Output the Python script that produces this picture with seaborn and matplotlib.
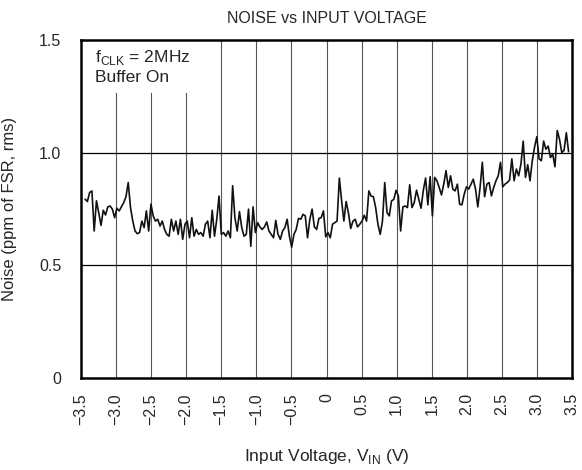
import numpy as np
import pandas as pd
import matplotlib
matplotlib.use('Agg')
import matplotlib.pyplot as plt
import seaborn as sns
from matplotlib.patches import Rectangle

# Barrido de tension de entrada (V)
VIN_START = -3.44
VIN_STOP = 3.45

# Ruido (ppm of FSR, rms), de izquierda a derecha
noise_neg = [
    0.793, 0.783, 0.823, 0.830, 0.652, 0.786, 0.733, 0.677, 0.744, 0.723,
    0.759, 0.763, 0.749, 0.711, 0.753, 0.741, 0.759, 0.778, 0.804, 0.867,
    0.756, 0.696, 0.652, 0.640, 0.645, 0.696, 0.667, 0.741, 0.652, 0.771,
    0.719, 0.696, 0.704, 0.674, 0.696, 0.659, 0.637, 0.629, 0.704, 0.652,
    0.696, 0.637, 0.704, 0.615, 0.682, 0.696, 0.622, 0.711, 0.629, 0.659,
    0.637, 0.645, 0.629, 0.682, 0.696, 0.622, 0.744, 0.629, 0.704, 0.807,
    0.637, 0.645, 0.629, 0.652, 0.622,
]
noise_mid = [
    0.853, 0.711, 0.652, 0.738, 0.667, 0.629, 0.637, 0.749, 0.584, 0.759,
    0.645, 0.689, 0.670, 0.659, 0.670, 0.692, 0.652, 0.637, 0.622, 0.699,
    0.637, 0.615, 0.652, 0.667, 0.704, 0.629, 0.580, 0.637, 0.659, 0.708,
    0.704, 0.726, 0.719, 0.622, 0.704, 0.749, 0.670, 0.659, 0.708, 0.711,
    0.741, 0.626, 0.645, 0.622, 0.682, 0.689, 0.696, 0.887, 0.786, 0.696,
    0.783, 0.733, 0.663, 0.696, 0.704, 0.670, 0.682, 0.696, 0.722, 0.696,
    0.830, 0.807, 0.804, 0.756, 0.682, 0.637, 0.696,
]
noise_pos = [
    0.867, 0.734, 0.719, 0.786, 0.792, 0.833, 0.808, 0.652, 0.759, 0.763,
    0.756, 0.857, 0.756, 0.778, 0.833, 0.793, 0.753, 0.833, 0.887, 0.768,
    0.893, 0.719, 0.890, 0.875, 0.845, 0.812, 0.860, 0.920, 0.845, 0.897,
    0.838, 0.830, 0.860, 0.771, 0.768, 0.815, 0.848, 0.838, 0.860, 0.882,
    0.838, 0.759, 0.845, 0.957, 0.804, 0.860, 0.867, 0.808, 0.845, 0.875,
    0.897, 0.957, 0.848, 0.860, 0.867, 0.878, 0.972, 0.875, 0.927, 0.897,
    0.949, 1.051, 0.890, 0.946, 0.875, 0.964, 1.024, 1.071,
]
noise_tail = [
    0.972, 0.964, 1.051, 1.015, 1.029, 0.978, 0.993, 0.937, 1.098, 1.059,
    1.000, 1.010, 1.088, 1.004,
]

x_ticks = [-3.5, -3.0, -2.5, -2.0, -1.5, -1.0, -0.5, 0, 0.5, 1.0, 1.5, 2.0, 2.5, 3.0, 3.5]
x_labels = ['\u22123.5', '\u22123.0', '\u22122.5', '\u22122.0', '\u22121.5', '\u22121.0', '\u22120.5',
            '0', '0.5', '1.0', '1.5', '2.0', '2.5', '3.0', '3.5']
y_ticks = [0, 0.5, 1.0, 1.5]
y_labels = ['0', '0.5', '1.0', '1.5']

noise = noise_neg + noise_mid + noise_pos + noise_tail
df = pd.DataFrame({
    'vin': np.linspace(VIN_START, VIN_STOP, len(noise)),
    'noise': noise,
})

sns.set_style('white')
plt.rcParams['font.family'] = ['Liberation Sans', 'DejaVu Sans']
plt.rcParams['mathtext.fontset'] = 'custom'
plt.rcParams['mathtext.rm'] = 'Liberation Sans'

fig = plt.figure(figsize=(5.82, 4.70), dpi=100)
ax = fig.add_axes([0.139, 0.196, 0.844, 0.719])

sns.lineplot(data=df, x='vin', y='noise', color='#111111', linewidth=1.2, ax=ax, zorder=3)

ax.set_xlim(-3.5, 3.5)
ax.set_ylim(0, 1.5)
ax.set_xticks(x_ticks)
ax.set_xticklabels(x_labels, rotation=90, fontsize=11.5)
ax.set_yticks(y_ticks)
ax.set_yticklabels(y_labels, fontsize=11.5)
ax.tick_params(axis='x', length=0, pad=11)
ax.tick_params(axis='y', length=0, pad=14)

for xv in x_ticks[1:-1]:
    ax.axvline(xv, color='#555555', linewidth=0.8, zorder=1)
for yv in y_ticks[1:-1]:
    ax.axhline(yv, color='black', linewidth=0.9, zorder=1)

# caja blanca detras de la anotacion
ax.add_patch(Rectangle((0, 0.843), 0.25, 0.157, transform=ax.transAxes,
                       facecolor='white', edgecolor='none', zorder=2))
ax.text(0.028, 0.975, r'f$_\mathregular{CLK}$ = 2MHz' + '\nBuffer On', transform=ax.transAxes,
        ha='left', va='top', fontsize=12.5, linespacing=1.25, zorder=4)

for s in ax.spines.values():
    s.set_visible(True)
    s.set_color('black')
    s.set_linewidth(1.8)

ax.set_title('NOISE vs INPUT VOLTAGE', fontsize=11.5, pad=12)
ax.set_xlabel(r'Input Voltage, V$_\mathregular{IN}$ (V)', fontsize=12.5)
ax.xaxis.set_label_coords(0.5, -0.205)
ax.set_ylabel('Noise (ppm of FSR, rms)', fontsize=12)
ax.yaxis.set_label_coords(-0.13, 0.5)

plt.savefig('out.png', dpi=100)
plt.close()
